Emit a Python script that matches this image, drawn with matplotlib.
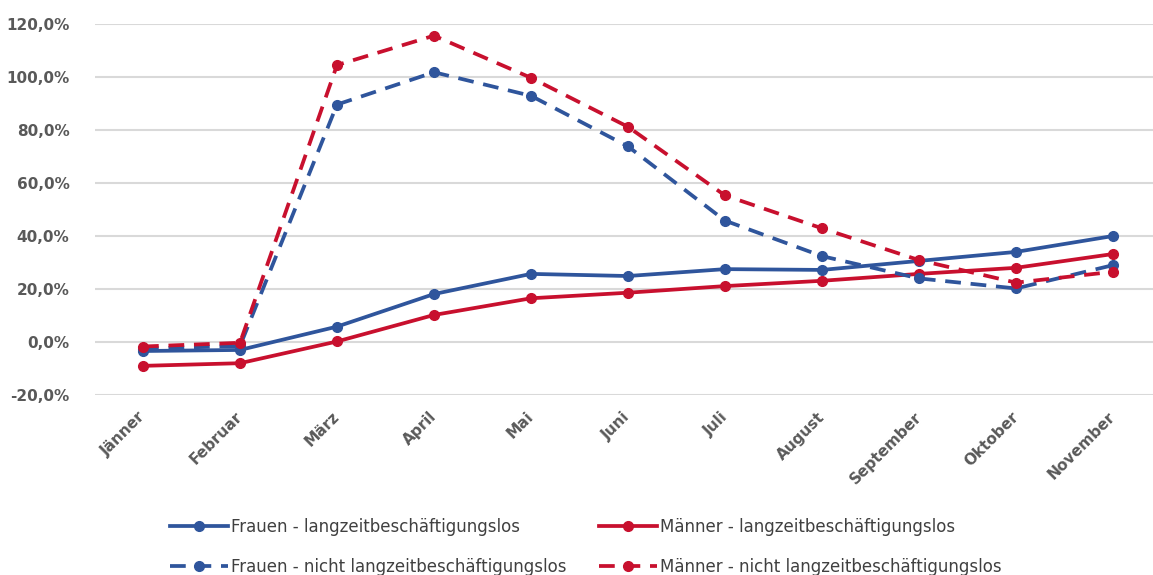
import matplotlib
matplotlib.use("Agg")
import matplotlib.pyplot as plt
from matplotlib.ticker import FuncFormatter

months = ["Jänner", "Februar", "März", "April", "Mai", "Juni", "Juli",
          "August", "September", "Oktober", "November"]

frauen_lang = [-3.4, -3.0, 5.8, 18.1, 25.7, 24.9, 27.5, 27.2, 30.6, 34.0, 40.0]
maenner_lang = [-9.0, -8.0, 0.2, 10.2, 16.5, 18.6, 21.1, 23.1, 25.7, 28.0, 33.2]
frauen_nicht = [-2.5, -1.5, 89.6, 101.8, 92.9, 73.8, 45.8, 32.4, 24.0, 20.2, 29.0]
maenner_nicht = [-1.7, -0.3, 104.5, 115.6, 99.7, 81.2, 55.3, 42.9, 30.9, 22.4, 26.5]

labels = ["Frauen - langzeitbeschäftigungslos",
          "Männer - langzeitbeschäftigungslos",
          "Frauen - nicht langzeitbeschäftigungslos",
          "Männer - nicht langzeitbeschäftigungslos"]

blue = "#2F559C"
red = "#C8102E"
grid_color = "#D9D9D9"
text_color = "#595959"

fig = plt.figure(figsize=(11.53, 5.75), dpi=100)
ax = fig.add_axes([94.5 / 1153, 1 - 395 / 575, 1 - 94.5 / 1153, (395 - 24) / 575])

x = range(len(months))
dash = (0, (4.2, 2.6))
common = dict(linewidth=2.7, marker="o", markersize=7)

h1, = ax.plot(x, frauen_lang, color=blue, **common)
h2, = ax.plot(x, maenner_lang, color=red, **common)
h3, = ax.plot(x, frauen_nicht, color=blue, linestyle=dash, **common)
h4, = ax.plot(x, maenner_nicht, color=red, linestyle=dash, **common)

ax.set_ylim(-20, 120)
ax.set_yticks(range(-20, 121, 20))
ax.yaxis.set_major_formatter(FuncFormatter(lambda v, p: f"{v:.1f}%".replace(".", ",")))
ax.set_xlim(-0.5, (1153 - 94.5) / 97 - 0.5)
ax.set_xticks(list(x))
ax.set_xticklabels(months, rotation=45, ha="right", va="center", rotation_mode="anchor")

ax.grid(axis="y", color=grid_color, linewidth=1.5)
ax.set_axisbelow(True)
for s in ax.spines.values():
    s.set_visible(False)
ax.tick_params(axis="both", length=0, colors=text_color)
ax.tick_params(axis="y", pad=18)
ax.tick_params(axis="x", pad=14)
for t in ax.get_yticklabels() + ax.get_xticklabels():
    t.set_fontweight("bold")
    t.set_fontsize(11)

# legend fills column-wise, so interleave to get rows Frauen/Männer
fig.legend([h1, h3, h2, h4], [labels[0], labels[2], labels[1], labels[3]],
           loc="upper left", bbox_to_anchor=(163 / 1153, 1 - 511 / 575), ncol=2,
           frameon=False, fontsize=12, handlelength=3.5, handletextpad=0.2,
           columnspacing=1.9, labelspacing=1.35, labelcolor="#404040",
           borderaxespad=0)

fig.savefig("out.png", dpi=100)
